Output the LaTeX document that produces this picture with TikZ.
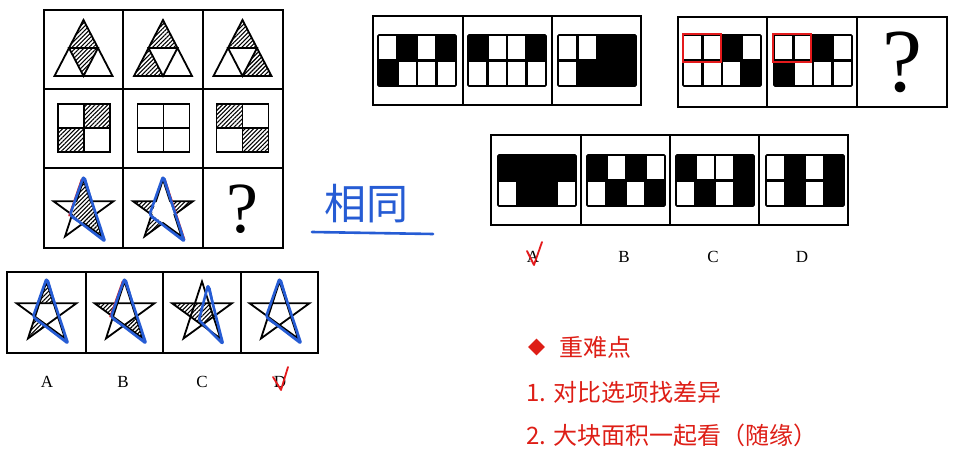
\documentclass[tikz,border=0pt]{standalone}
\usepackage{fontspec}
\newfontfamily\cjk{Noto Sans CJK SC}
\newfontfamily\timesfont{Liberation Serif}
\usetikzlibrary{patterns.meta,shapes.geometric}
\definecolor{inkblue}{RGB}{38,92,212}
\definecolor{inkred}{RGB}{228,26,28}
\definecolor{notered}{RGB}{222,30,22}

% 4x2 block grid: left, top, white cells as col/row
\newcommand{\blockgrid}[3]{%
  \fill[rounded corners=1pt] (#1,#2) rectangle (#1+78,#2+51);
  \foreach \c/\r in {#3}
    \fill[white] (#1+\c*19.5-18.3,#2+\r*25.5-24.3) rectangle (#1+\c*19.5-1.2,#2+\r*25.5-1.2);
  \draw[line width=1.6, rounded corners=1pt] (#1,#2) rectangle (#1+78,#2+51);
}
% triangle cut in four: centre x, hatched parts
\newcommand{\sierp}[2]{%
  \coordinate (tap) at (#1,20);
  \coordinate (tbl) at (#1-29,76);
  \coordinate (tbr) at (#1+29,76);
  \coordinate (tml) at (#1-14.5,48);
  \coordinate (tmr) at (#1+14.5,48);
  \coordinate (tmb) at (#1,76);
  \foreach \p/\q/\r in {#2}
    \fill[hatch] (\p) -- (\q) -- (\r) -- cycle;
  \draw[figline] (tap) -- (tbl) -- (tbr) -- cycle (tml) -- (tmr) -- (tmb) -- cycle;
}
% square cut in four: centre x
\newcommand{\foursq}[1]{%
  \draw[figline] (#1-26,104) rectangle (#1+26,152) (#1,104) -- (#1,152) (#1-26,128) -- (#1+26,128);
}
% star points: centre x, centre y
\newcommand{\starpts}[2]{%
  \begin{scope}[shift={(#1,#2)}]
    \foreach \k/\a in {1/-90,2/-18,3/54,4/126,5/198}{
      \coordinate (so\k) at (\a:31.5);
      \coordinate (si\k) at (\a+36:12);
    }
  \end{scope}}
\newcommand{\staroutline}{\draw[figline] (so1) -- (si1) -- (so2) -- (si2) -- (so3) -- (si3) -- (so4) -- (si4) -- (so5) -- (si5) -- cycle;}
\newcommand{\starlines}{\draw[figline] (so1) -- (so3) -- (so5) -- (so2) -- (so4) -- cycle;}
\newcommand{\penmark}{%
  \draw[inkpen] ([shift={(0,-3)}]so1) -- ([shift={(3,5)}]so3) -- ([shift={(-2,0)}]si4) -- cycle;
  \draw[inkpen, line width=1.3] ([shift={(2,-1)}]so1) -- ([shift={(1,2)}]so3) -- ([shift={(0,3)}]si4);
}

\begin{document}
\begin{tikzpicture}[x=1pt,y=-1pt,
    figline/.style={line width=1.8, line join=miter},
    hatch/.style={pattern={Lines[angle=45,distance=3pt,line width=1.1pt]}},
    inkpen/.style={draw=inkblue, line width=2.6, line join=round, line cap=round, rounded corners=1.5pt},
    redpen/.style={draw=inkred, line width=1.6, line cap=round},
    tick/.style={draw=inkred, line width=1.8, line cap=round, line join=round},
    optlabel/.style={font=\timesfont\fontsize{17}{17}\selectfont, inner sep=0pt},
    note/.style={text=notered, font=\cjk\fontsize{24}{24}\selectfont, inner sep=0pt, anchor=west}]
  \fill[white] (0,0) rectangle (954,463);
  \useasboundingbox (0,0) rectangle (954,463);

  % 3x3 grid
  \sierp{83.5}{tap/tml/tmr,tml/tmr/tmb}
  \sierp{163}{tap/tml/tmr,tml/tbl/tmb}
  \sierp{242.5}{tap/tml/tmr,tmr/tmb/tbr}

  \fill[hatch] (84,104) rectangle (110,128) (58,128) rectangle (84,152);
  \foursq{84}
  \foursq{163.5}
  \fill[hatch] (216.5,104) rectangle (242.5,128) (242.5,128) rectangle (268.5,152);
  \foursq{242.5}

  \starpts{83.5}{211}
  \fill[hatch] (so1) -- (so3) -- (si4) -- cycle;
  \staroutline
  \draw[redpen] ([shift={(-2,0)}]so1) -- ([shift={(-3,1)}]si4);
  \penmark
  \starpts{163}{211}
  \foreach \p/\q/\r in {so5/si4/si5,so2/si1/si2,so4/si3/si4}
    \fill[hatch] (\p) -- (\q) -- (\r) -- cycle;
  \staroutline
  \draw[redpen] ([shift={(2,0)}]so1) -- ([shift={(3,3)}]so3);
  \penmark
  \node[font=\timesfont\fontsize{72}{72}\selectfont, inner sep=0pt] (qmarkgrid) at (242,209) {?};

  \draw[figline] (44,10) rectangle (283,248);
  \foreach \x in {123,203} \draw[figline] (\x,10) -- (\x,248);
  \foreach \y in {89,168} \draw[figline] (44,\y) -- (283,\y);

  % star options
  \starpts{46.5}{313}
  \foreach \p/\q/\r in {so1/si1/si5,so4/si3/si4}
    \fill[hatch] (\p) -- (\q) -- (\r) -- cycle;
  \starlines
  \penmark
  \starpts{124.5}{313}
  \foreach \p/\q/\r in {so5/si4/si5,so3/si2/si3}
    \fill[hatch] (\p) -- (\q) -- (\r) -- cycle;
  \starlines
  \draw[redpen] ([shift={(-2,0)}]so1) -- ([shift={(-3,0)}]si4);
  \penmark
  \starpts{202}{313}
  \fill[hatch] (so5) -- (si4) -- (si5) -- cycle (si1) -- (si2) -- (si3) -- (si4) -- (si5) -- cycle;
  \starlines
  \draw[inkpen] (208,285) -- (223,344) -- (199,320) -- cycle;
  \draw[inkpen, line width=1.3] (210,288) -- (221,340);
  \starpts{279.5}{313}
  \starlines
  \penmark

  \draw[figline] (7,272) rectangle (318,353);
  \foreach \x in {86,163,241} \draw[figline] (\x,272) -- (\x,353);
  \node[optlabel] (starA) at (47,382) {A};
  \node[optlabel] (starB) at (123,382) {B};
  \node[optlabel] (starC) at (202,382) {C};
  \node[optlabel] (starD) at (280,382) {D};
  \draw[tick] (273,377) -- (281,390) -- (288,367);

  % handwritten note
  \node[text=inkblue, font=\cjk\fontsize{42}{42}\selectfont, inner sep=0pt] (same) at (366,204) {相同};
  \draw[inkpen] (312,232) -- (433,234);

  % first block sequence
  \blockgrid{378}{35}{1/1,3/1,2/2,3/2,4/2}
  \blockgrid{468}{35}{2/1,3/1,1/2,2/2,3/2,4/2}
  \blockgrid{558}{35}{1/1,2/1,1/2}
  \draw[figline] (373,16) rectangle (641,105);
  \foreach \x in {463,552} \draw[figline] (\x,16) -- (\x,105);

  % second block sequence
  \blockgrid{683}{35}{1/1,2/1,4/1,1/2,2/2,3/2}
  \blockgrid{774}{35}{1/1,2/1,4/1,2/2,3/2,4/2}
  \draw[draw=inkred, line width=2.4] (683,34) rectangle (721,62);
  \draw[draw=inkred, line width=2.4] (773,34) rectangle (811,62);
  \node[font=\timesfont\fontsize{90}{90}\selectfont, inner sep=0pt] (qmarkseq) at (902,62) {?};
  \draw[figline] (678,17) rectangle (947,107);
  \foreach \x in {767,857} \draw[figline] (\x,17) -- (\x,107);

  % block options
  \blockgrid{498}{155}{1/2,4/2}
  \blockgrid{587}{155}{2/1,4/1,1/2,3/2}
  \blockgrid{676}{155}{2/1,3/1,1/2,3/2}
  \blockgrid{766}{155}{1/1,3/1,1/2,3/2}
  \draw[figline] (491,135) rectangle (848,225);
  \foreach \x in {581,670,759} \draw[figline] (\x,135) -- (\x,225);
  \node[optlabel] (blockA) at (533,257) {A};
  \node[optlabel] (blockB) at (624,257) {B};
  \node[optlabel] (blockC) at (713,257) {C};
  \node[optlabel] (blockD) at (802,257) {D};
  \draw[tick] (527,251) -- (534,265) -- (542,242);

  % key points
  \node[diamond, fill=notered, inner sep=0pt, minimum width=17, minimum height=17] (bullet) at (536.5,347) {};
  \node[note] (keypt) at (559,347) {重难点};
  \node[note] (tip1) at (526,392) {1. 对比选项找差异};
  \node[note] (tip2) at (526,435) {2. 大块面积一起看（随缘）};
\end{tikzpicture}
\end{document}
